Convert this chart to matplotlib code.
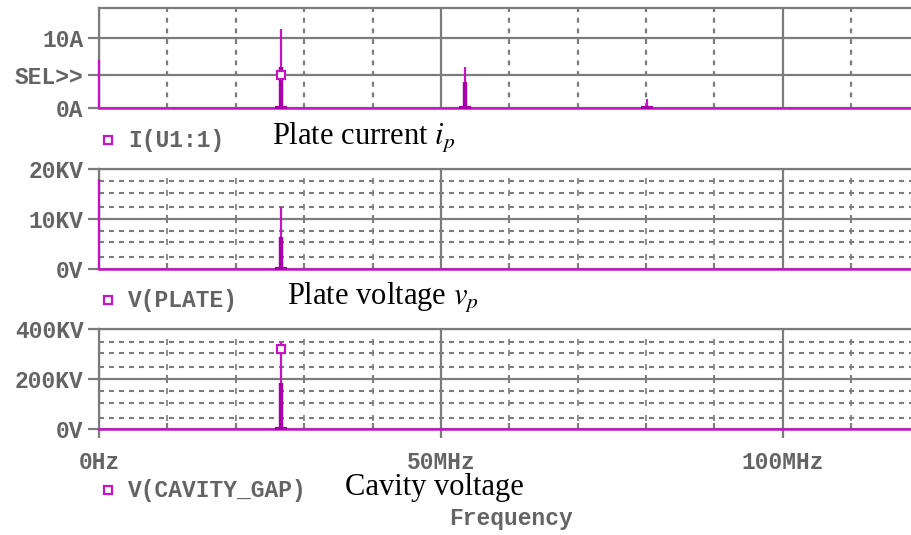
import matplotlib
matplotlib.use('Agg')
import matplotlib.pyplot as plt
from matplotlib.lines import Line2D

W, H, DPI = 912, 535, 100

# ---------------- data ----------------
freq_max_mhz = 118.9
x_major = [0, 50, 100]
x_major_labels = ['0Hz', '50MHz', '100MHz']
x_minor = [10, 20, 30, 40, 60, 70, 80, 90, 110]

# Plate current I(U1:1) [A]
ip_freq = [0.0, 26.6, 53.5, 80.1]
ip_peak = [6.9, 11.4, 5.9, 1.4]
ip_body = [0.0, 5.9, 3.7, 0.0]
ip_ymax = 14.29
ip_yticks = [0, 4.76, 10]
ip_ylabels = ['0A', 'SEL>>', '10A']
ip_marker_f, ip_marker_v = 26.6, 4.76

# Plate voltage V(PLATE) [kV]
vp_freq = [0.0, 26.6]
vp_peak = [18.0, 12.35]
vp_body = [0.0, 6.4]
vp_ymax = 20
vp_yticks = [0, 10, 20]
vp_ylabels = ['0V', '10KV', '20KV']
vp_minor = [2.3, 5.4, 7.6, 12.4, 15.2, 17.6]

# Cavity voltage V(CAVITY_GAP) [kV]
vc_freq = [26.6]
vc_peak = [350]
vc_body = [186]
vc_ymax = 400
vc_yticks = [0, 200, 400]
vc_ylabels = ['0V', '200KV', '400KV']
vc_minor = [47, 106, 154, 248, 304, 350]
vc_marker_f, vc_marker_v = 26.6, 320

trace_names = ['I(U1:1)', 'V(PLATE)', 'V(CAVITY_GAP)']
trace_desc = ['Plate current $i_p$', 'Plate voltage $v_p$', 'Cavity voltage']

# ---------------- style ----------------
MAG = '#c414c4'
MAG_D = '#a800a8'
GRID = '#7c7c7c'
TXT = '#646464'
MONO = 'Liberation Mono'
MSIZE = 16.5
plt.rcParams['mathtext.fontset'] = 'stix'

fig = plt.figure(figsize=(W / DPI, H / DPI), dpi=DPI)


def rect(x0, y0, x1, y1):
    return [x0 / W, 1 - y1 / H, (x1 - x0) / W, (y1 - y0) / H]


def fx(x):
    return x / W


def fy(y):
    return 1 - y / H


def base_axes(r, ymax, yticks, ylabels):
    ax = fig.add_axes(r)
    ax.set_xlim(0, freq_max_mhz)
    ax.set_ylim(0, ymax)
    for s in ['right', 'bottom']:
        ax.spines[s].set_visible(False)
    for s in ['top', 'left']:
        ax.spines[s].set_color(GRID)
        ax.spines[s].set_linewidth(1.6)
    ax.set_yticks(yticks)
    ax.set_yticklabels(ylabels)
    ax.tick_params(axis='y', which='major', length=8, width=1.6, color=GRID,
                   pad=3, labelcolor=TXT, labelsize=MSIZE)
    for lbl in ax.get_yticklabels():
        lbl.set_fontfamily(MONO)
        lbl.set_fontweight('bold')
    ax.set_xticks(x_major)
    ax.set_xticklabels([])
    ax.tick_params(axis='x', which='both', length=0)
    ax.grid(axis='y', which='major', color=GRID, lw=1.6, ls='-', zorder=1)
    ax.axhline(0, color=MAG, lw=1.8, zorder=4, clip_on=False)
    ax.set_facecolor('white')
    return ax


def spikes(ax, freq, peak, body):
    ax.vlines(freq, 0, peak, color=MAG, lw=1.6, zorder=5, clip_on=False)
    fb = [f for f, b in zip(freq, body) if b > 0]
    bb = [b for b in body if b > 0]
    ax.vlines(fb, 0, bb, color=MAG_D, lw=3.2, zorder=5)
    feet = [f for f in freq if f > 0]
    ax.plot(feet, [0] * len(feet), ls='none', marker='_', ms=8, mew=3,
            color=MAG_D, zorder=5)


# ---------- top panel: plate current ----------
ax1 = base_axes(rect(99, 8.3, 912, 108.3), ip_ymax, ip_yticks, ip_ylabels)
ax1.set_xticks(x_minor, minor=True)
ax1.grid(axis='x', which='minor', color=GRID, lw=1.6, ls=(0, (2.2, 2.6)), zorder=1)
ax1.grid(axis='x', which='major', color=GRID, lw=1.6, ls='-', zorder=1)
spikes(ax1, ip_freq, ip_peak, ip_body)
ax1.plot([ip_marker_f], [ip_marker_v], ls='none', marker='s', ms=6.3, mfc='white',
         mec=MAG, mew=1.6, zorder=6)


def voltage_panel(r, ymax, yticks, ylabels, minor):
    ax = base_axes(r, ymax, yticks, ylabels)
    ax.set_yticks(minor, minor=True)
    ax.tick_params(axis='y', which='minor', length=0)
    ax.grid(axis='y', which='minor', color=GRID, lw=1.5, ls=(0, (2.4, 2.4)), zorder=1)
    ax.grid(axis='x', which='major', color=GRID, lw=1.6, ls='-', zorder=1)
    tr = ax.get_xaxis_transform()
    ax.vlines(x_minor, 0, 0.06, color=GRID, lw=1.6, transform=tr, zorder=2)
    ax.vlines(x_minor, 0.46, 0.54, color=GRID, lw=1.4, transform=tr, zorder=2)
    for m in minor:
        yf = m / ymax
        ax.vlines(x_minor, yf - 0.03, yf + 0.03, color=GRID, lw=1.2, transform=tr, zorder=2)
    return ax


# ---------- middle panel: plate voltage ----------
ax2 = voltage_panel(rect(99, 169.3, 912, 268.7), vp_ymax, vp_yticks, vp_ylabels, vp_minor)
spikes(ax2, vp_freq, vp_peak, vp_body)

# ---------- bottom panel: cavity voltage ----------
ax3 = voltage_panel(rect(99, 329.3, 912, 429.3), vc_ymax, vc_yticks, vc_ylabels, vc_minor)
spikes(ax3, vc_freq, vc_peak, vc_body)
ax3.plot([vc_marker_f], [vc_marker_v], ls='none', marker='s', ms=6.3, mfc='white',
         mec=MAG, mew=1.6, zorder=6)
ax3.set_xticklabels(x_major_labels)
ax3.tick_params(axis='x', which='major', length=6.5, width=1.6, color=GRID,
                pad=9, labelcolor=TXT, labelsize=MSIZE, direction='out')
for lbl in ax3.get_xticklabels():
    lbl.set_fontfamily(MONO)
    lbl.set_fontweight('bold')
ax3.set_xlabel('Frequency', fontfamily=MONO, fontweight='bold', fontsize=MSIZE, color=TXT)
ax3.xaxis.set_label_coords((511 - 99) / 813, -(519 - 429.3) / 100)
ax3.xaxis.label.set_va('center')

# ---------- legend rows ----------
rows_y = [140, 300, 490]
desc_x = [272, 287, 345]
for name, desc, yy, dx in zip(trace_names, trace_desc, rows_y, desc_x):
    fig.add_artist(Line2D([fx(108)], [fy(yy)], marker='s', ms=6, mfc='white',
                          mec=MAG, mew=1.6, transform=fig.transFigure))
    fig.text(fx(128), fy(yy), name, ha='left', va='center', fontfamily=MONO,
             fontweight='bold', fontsize=MSIZE, color=TXT)
    fig.text(fx(dx), fy(yy - 2), desc, ha='left', va='center',
             fontfamily='Liberation Serif', fontsize=22, color='black')

fig.savefig('out.png', dpi=DPI)
